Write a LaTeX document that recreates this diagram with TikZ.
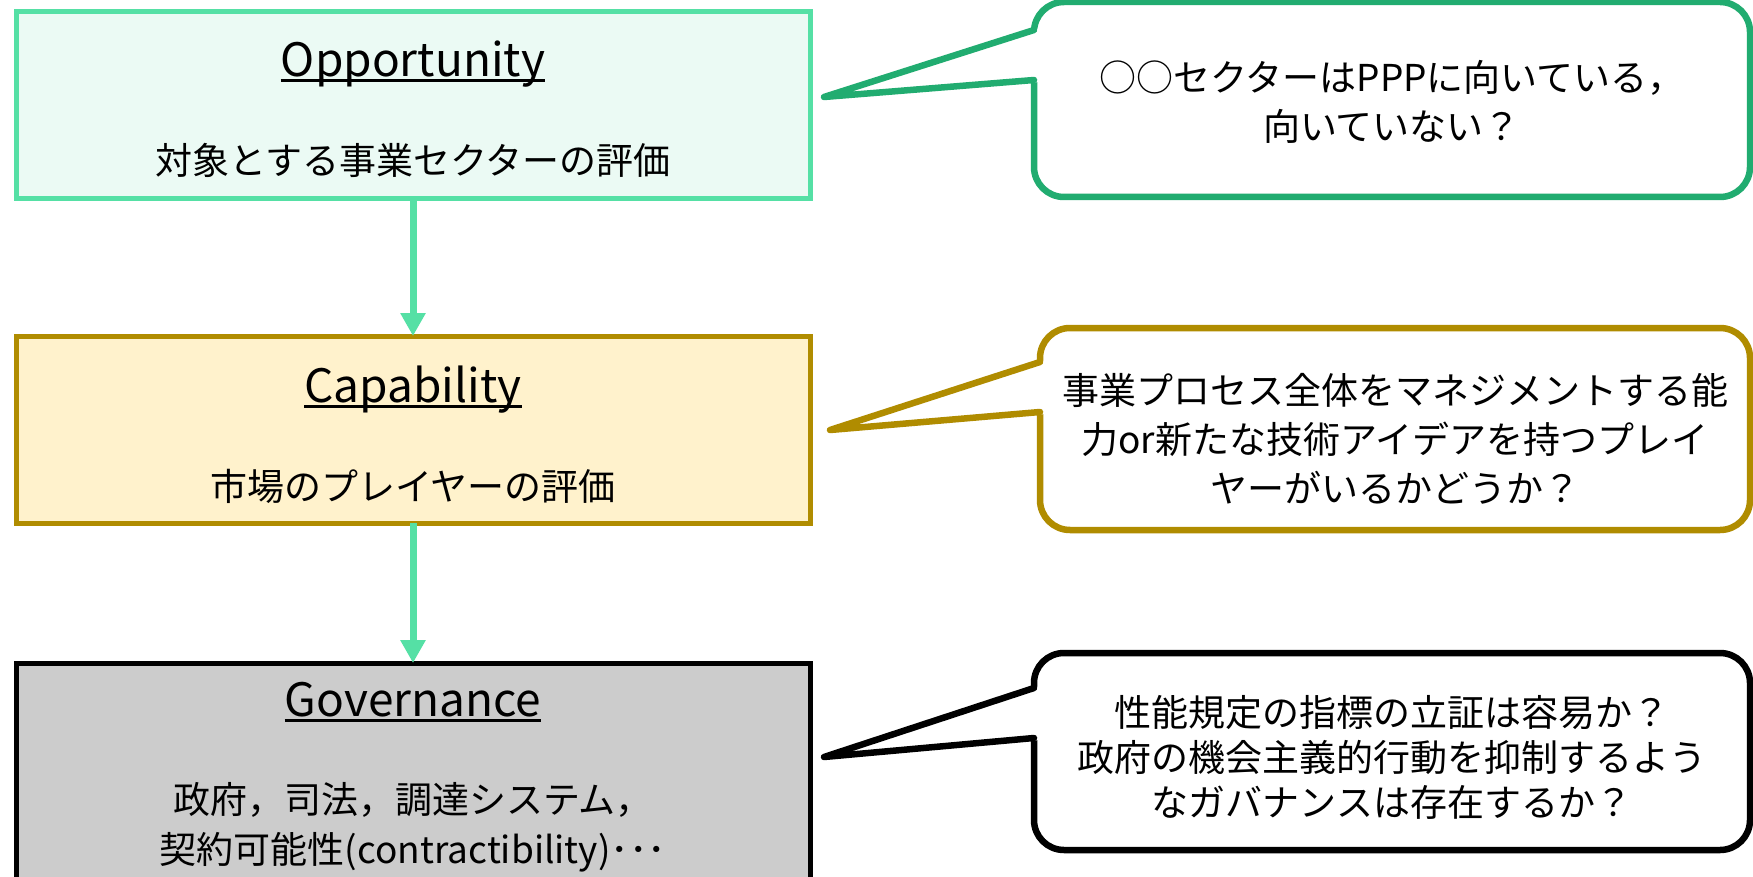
\documentclass[tikz,border=0pt]{standalone}
\usepackage{fontspec}
\setmainfont{Noto Sans CJK JP}
\usetikzlibrary{arrows.meta}
\definecolor{oppline}{RGB}{85,224,165}
\definecolor{oppfill}{RGB}{235,250,244}
\definecolor{callg}{RGB}{33,172,112}
\definecolor{capline}{RGB}{176,140,0}
\definecolor{capfill}{RGB}{255,242,204}
\definecolor{govfill}{RGB}{204,204,204}
\begin{document}
\begin{tikzpicture}[x=1pt,y=-1pt,
  box/.style={draw, line width=5pt, minimum width=794pt, minimum height=187pt, outer sep=0pt, inner sep=0pt},
  head/.style={inner sep=0pt, font=\fontsize{46}{50}\selectfont, anchor=base},
  body/.style={inner sep=0pt, font=\fontsize{37}{49}\selectfont, align=center},
  callout/.style={draw, fill=white, line width=6.5pt, rounded corners=30pt, inner sep=0pt, outer sep=0pt},
  pointer/.style={line width=6.5pt, line cap=round, line join=round},
  flow/.style={draw=oppline, line width=7pt, -{Triangle[width=24pt,length=23pt]}},
  uline/.style={line width=3pt}
]
\useasboundingbox (0,0) rectangle (1753,877);
\clip (0,0) rectangle (1753,877);
\fill[white] (0,0) rectangle (1753,877);

% left boxes
\node[box, draw=oppline, fill=oppfill] (opp) at (413,105.5) {};
\node[box, draw=capline, fill=capfill] (cap) at (413,429.5) {};
\node[box, draw=black, fill=govfill, minimum height=227pt] (gov) at (413,776.5) {};

\draw[flow] (opp.south) -- (cap.north);
\draw[flow] (cap.south) -- (gov.north);

% texts in boxes
\node[head] (t1) at (413,77) {Opportunity};
\draw[uline] ([yshift=-4pt]t1.base west) -- ([yshift=-4pt]t1.base east);
\node[body] (d1) at (413,160) {対象とする事業セクターの評価};

\node[head] (t2) at (413,402) {Capability};
\draw[uline] ([yshift=-4pt]t2.base west) -- ([yshift=-4pt]t2.base east);
\node[body] (d2) at (413,486) {市場のプレイヤーの評価};

\node[head] (t3) at (413,716) {Governance};
\draw[uline] ([yshift=-4pt]t3.base west) -- ([yshift=-4pt]t3.base east);
\node[body, font=\fontsize{37}{50}\selectfont] (d3) at (413,827) {政府，司法，調達システム，\\契約可能性(contractibility)･･･};

% callouts
\node[callout, draw=callg, minimum width=716pt, minimum height=195pt] (c1) at (1392,99.5) {};
\coordinate (p1) at (824,97);
\fill[white] (1040,28) -- (p1) -- (1040,82) -- cycle;
\draw[pointer, draw=callg] (1034,30) -- (p1) -- (1034,80);
\node[body] (q1) at (1392,101.5) {○○セクターはPPPに向いている，\\向いていない？};

\node[callout, draw=capline, minimum width=710pt, minimum height=202pt] (c2) at (1395,429) {};
\coordinate (p2) at (830,430);
\fill[white] (1046,360) -- (p2) -- (1046,414) -- cycle;
\draw[pointer, draw=capline] (1040,362) -- (p2) -- (1040,412);
\node[body] (q2) at (1395,438.5) {事業プロセス全体をマネジメントする能\\力or新たな技術アイデアを持つプレイ\\ヤーがいるかどうか？};

\node[callout, draw=black, minimum width=716pt, minimum height=197pt] (c3) at (1392,751.5) {};
\coordinate (p3) at (824,757);
\fill[white] (1040,686) -- (p3) -- (1040,740) -- cycle;
\draw[pointer, draw=black] (1034,688) -- (p3) -- (1034,738);
\node[body, font=\fontsize{37}{45}\selectfont] (q3) at (1392,757) {性能規定の指標の立証は容易か？\\政府の機会主義的行動を抑制するよう\\なガバナンスは存在するか？};
\end{tikzpicture}
\end{document}
